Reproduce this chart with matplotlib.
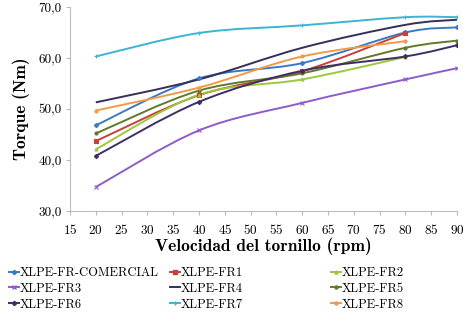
import numpy as np
import matplotlib
matplotlib.use("Agg")
import matplotlib.pyplot as plt
from matplotlib.path import Path
from matplotlib.patches import PathPatch
from matplotlib.lines import Line2D

# data
rpm = [20, 40, 60, 80, 90]
names = ["XLPE-FR-COMERCIAL", "XLPE-FR1", "XLPE-FR2", "XLPE-FR3", "XLPE-FR4",
         "XLPE-FR5", "XLPE-FR6", "XLPE-FR7", "XLPE-FR8"]
comercial = [46.8, 56.0, 59.0, 65.0, 66.0]
fr1 = [43.7, 52.7, 57.4, 64.9]
fr2 = [42.1, 52.8, 55.8, 60.2]
fr3 = [34.7, 45.8, 51.2, 55.8, 58.0]
fr4 = [51.3, 55.8, 62.0, 66.5, 67.5]
fr5 = [45.2, 53.6, 57.0, 62.0, 63.4]
fr6 = [40.8, 51.4, 57.5, 60.3, 62.5]
fr7 = [60.3, 64.9, 66.4, 68.0, 68.0]
fr8 = [49.7, 54.2, 60.3, 63.3]
series = [comercial, fr1, fr2, fr3, fr4, fr5, fr6, fr7, fr8]

colors = ["#3C78C8", "#C8403A", "#9BC83C", "#8E5CC8", "#33305A",
          "#5E7A2A", "#3D2E66", "#3CB4D2", "#F39A45"]
markers = ["D", "s", "^", "x", None, "o", "D", "+", "o"]

plt.rcParams["font.family"] = "cmr10"
plt.rcParams["axes.formatter.use_mathtext"] = True


def smooth_path(xs, ys):
    # catmull-rom style bezier, like excel's smoothed lines
    pts = np.column_stack([xs, ys]).astype(float)
    ext = np.vstack([pts[0], pts, pts[-1]])
    verts = [pts[0]]
    codes = [Path.MOVETO]
    for i in range(1, len(ext) - 2):
        p0, p1, p2, p3 = ext[i - 1], ext[i], ext[i + 1], ext[i + 2]
        verts += [p1 + (p2 - p0) / 6, p2 - (p3 - p1) / 6, p2]
        codes += [Path.CURVE4] * 3
    return Path(verts, codes)


fig = plt.figure(figsize=(4.68, 3.14), dpi=100)
ax = fig.add_axes([70 / 468, 1 - 211 / 314, 387 / 468, 204 / 314])

handles = []
for name, vals, c, m in zip(names, series, colors, markers):
    xs = rpm[:len(vals)]
    ax.add_patch(PathPatch(smooth_path(xs, vals), fill=False, edgecolor=c, lw=1.4))
    if m:
        ax.plot(xs, vals, linestyle="none", marker=m, color=c, markersize=2.2,
                markeredgewidth=0.8)
    handles.append(Line2D([], [], color=c, lw=1.4, marker=m, markersize=2.2))

ax.set_xlim(15, 90)
ax.set_ylim(30, 70)
ax.set_xticks(range(15, 95, 5))
ax.set_yticks([30, 40, 50, 60, 70])
ax.set_yticklabels(["30,0", "40,0", "50,0", "60,0", "70,0"])
ax.tick_params(labelsize=9.5, length=3, color="#bbbbbb", width=0.8, pad=3)
ax.tick_params(axis="x", pad=6)
for s in ["top", "right"]:
    ax.spines[s].set_visible(False)
for s in ["left", "bottom"]:
    ax.spines[s].set_color("#bbbbbb")
    ax.spines[s].set_linewidth(0.8)

ax.set_xlabel("Velocidad del tornillo (rpm)", family="cmb10", fontsize=12.5, labelpad=0)
ax.set_ylabel("Torque (Nm)", family="cmb10", fontsize=12.5, labelpad=6)

# three legend columns placed like the original
cols = [[0, 3, 6], [1, 4, 7], [2, 5, 8]]
xpos = [0 / 468, 161 / 468, 322 / 468]
for idx, x0 in zip(cols, xpos):
    leg = fig.legend([handles[i] for i in idx], [names[i] for i in idx],
                     loc="upper left", bbox_to_anchor=(x0, 1 - 258 / 314),
                     frameon=False, fontsize=9, handlelength=0.8,
                     handletextpad=0.1, labelspacing=0.3, borderpad=0.2)

fig.savefig("out.png", dpi=100)
